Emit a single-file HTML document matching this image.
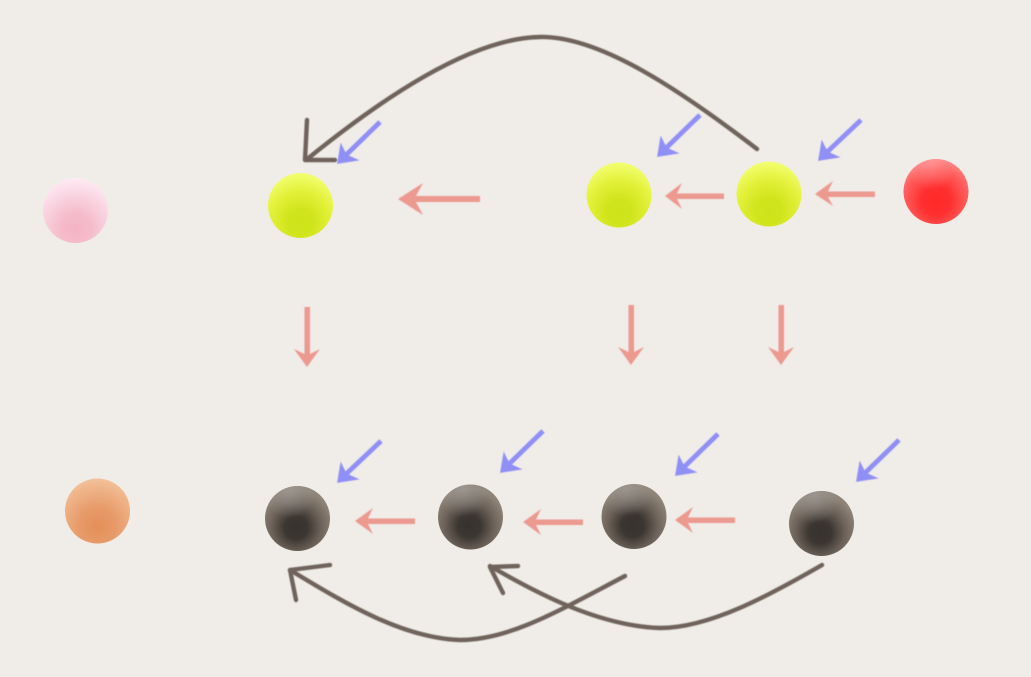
<!DOCTYPE html>
<html><head><meta charset="utf-8"><style>
html,body{margin:0;padding:0;background:#f0ece8;width:1031px;height:677px;overflow:hidden}
svg{display:block}
</style></head><body>
<svg width="1031" height="677" viewBox="0 0 1031 677" xmlns="http://www.w3.org/2000/svg">
<defs>
<radialGradient id="py" cx="50%" cy="76%" r="78%"><stop offset="0" stop-color="#cde31a"/><stop offset=".25" stop-color="#d0e41c"/><stop offset=".6" stop-color="#e2f038"/><stop offset=".9" stop-color="#f0fc66"/><stop offset="1" stop-color="#f4fe76"/></radialGradient>
<radialGradient id="pp" cx="50%" cy="78%" r="82%"><stop offset="0" stop-color="#f3b4c4"/><stop offset=".3" stop-color="#f5bccc"/><stop offset=".75" stop-color="#fbdce8"/><stop offset="1" stop-color="#ffeef6"/></radialGradient>
<radialGradient id="pr" cx="50%" cy="64%" r="66%"><stop offset="0" stop-color="#ff2828"/><stop offset=".35" stop-color="#ff3030"/><stop offset=".75" stop-color="#ff5f5f"/><stop offset="1" stop-color="#ff8c8c"/></radialGradient>
<radialGradient id="po" cx="50%" cy="74%" r="80%"><stop offset="0" stop-color="#e48f58"/><stop offset=".35" stop-color="#e79a68"/><stop offset=".8" stop-color="#f0b88e"/><stop offset="1" stop-color="#f5c8a2"/></radialGradient>
<radialGradient id="pd" cx="48%" cy="64%" r="58%"><stop offset="0" stop-color="#37322d"/><stop offset=".3" stop-color="#3c3631"/><stop offset=".65" stop-color="#6b6158"/><stop offset="1" stop-color="#8f8478"/></radialGradient>
<radialGradient id="hl" cx="38%" cy="8%" r="42%"><stop offset="0" stop-color="#a09c98" stop-opacity=".7"/><stop offset="1" stop-color="#a09c98" stop-opacity="0"/></radialGradient>
<radialGradient id="hr" cx="42%" cy="8%" r="40%"><stop offset="0" stop-color="#ffa8a8" stop-opacity=".5"/><stop offset="1" stop-color="#ffa8a8" stop-opacity="0"/></radialGradient>
<filter id="soft"><feGaussianBlur stdDeviation="0.6"/></filter>
</defs>
<rect width="1031" height="677" fill="#f0ece8"/>

<circle cx="75.5" cy="210.5" r="32.5" fill="url(#pp)"/>
<circle cx="300.5" cy="205.5" r="32.5" fill="url(#py)"/>
<circle cx="619" cy="195" r="32.5" fill="url(#py)"/>
<circle cx="769" cy="194" r="32.5" fill="url(#py)"/>
<circle cx="936" cy="191.5" r="32.5" fill="url(#pr)"/>
<circle cx="936" cy="191.5" r="32.5" fill="url(#hr)"/>
<circle cx="97.5" cy="511" r="32.5" fill="url(#po)"/>
<circle cx="297.5" cy="518.5" r="32.5" fill="url(#pd)"/>
<circle cx="297.5" cy="518.5" r="32.5" fill="url(#hl)"/>
<circle cx="470.5" cy="517" r="32.5" fill="url(#pd)"/>
<circle cx="470.5" cy="517" r="32.5" fill="url(#hl)"/>
<circle cx="634" cy="516.5" r="32.5" fill="url(#pd)"/>
<circle cx="634" cy="516.5" r="32.5" fill="url(#hl)"/>
<circle cx="821.5" cy="523.5" r="32.5" fill="url(#pd)"/>
<circle cx="821.5" cy="523.5" r="32.5" fill="url(#hl)"/>

<g fill="none" stroke="#6f645c" stroke-width="4.4" stroke-linecap="round" stroke-linejoin="round" filter="url(#soft)">
<path d="M757,149 C680,90 600,36 540,37 C470,38 380,100 306,160"/>
<path d="M307,120 L305,160 L335,160"/>
<path d="M625,576 C560,610 510,640 460,640 C400,638 340,600 290,570"/>
<path d="M330,565 L290,570 L296,600"/>
<path d="M822,565 C770,595 710,628 660,628 C600,626 540,595 490,566"/>
<path d="M518,566 L490,567 L503,593"/>
</g>

<g fill="#8f8ff5" stroke="#8f8ff5" stroke-width="4.8" filter="url(#soft)">
<path d="M380,122 L344,157" fill="none"/><path d="M338,163 L341,145 L346,155 L357,160 Z" stroke-width="1.5"/>
<path d="M700,115 L664,150" fill="none"/><path d="M658,156 L661,138 L666,148 L677,153 Z" stroke-width="1.5"/>
<path d="M861,120 L825,154" fill="none"/><path d="M819,160 L822,142 L827,152 L838,157 Z" stroke-width="1.5"/>
<path d="M381,441 L344,476" fill="none"/><path d="M338,482 L341,464 L346,474 L357,479 Z" stroke-width="1.5"/>
<path d="M543,431 L507,466" fill="none"/><path d="M501,472 L504,454 L509,464 L520,469 Z" stroke-width="1.5"/>
<path d="M718,434 L682,469" fill="none"/><path d="M676,475 L679,457 L684,467 L695,472 Z" stroke-width="1.5"/>
<path d="M899,440 L863,475" fill="none"/><path d="M857,481 L860,463 L865,473 L876,478 Z" stroke-width="1.5"/>
</g>

<g fill="#ec9a90" filter="url(#soft)">
<path d="M480,196 V202 H416 L423,215 L398,199 L423,183 L416,196 Z"/>
<path d="M724,193.500 V199 H677 L682,209 L665,196 L682,183 L677,193.500 Z"/>
<path d="M875,191.500 V197 H828 L833,206 L815,194 L833,181 L828,191.500 Z"/>
<path d="M415,518.500 V524 H368 L373,534 L355,521 L373,508 L368,518.500 Z"/>
<path d="M583,519.500 V525 H536 L541,535 L523,522 L541,509 L536,519.500 Z"/>
<path d="M735,517.500 V523 H688 L693,533 L675,520 L693,507 L688,517.500 Z"/>
<path d="M304.500,307 H310 V354 L320,349 L307,367 L294,349 L304.500,354 Z"/>
<path d="M628.500,305 H634 V352 L644,347 L631,365 L618,347 L628.500,352 Z"/>
<path d="M778.500,305 H784 V352 L794,347 L781,365 L768,347 L778.500,352 Z"/>
</g>
</svg>
</body></html>
